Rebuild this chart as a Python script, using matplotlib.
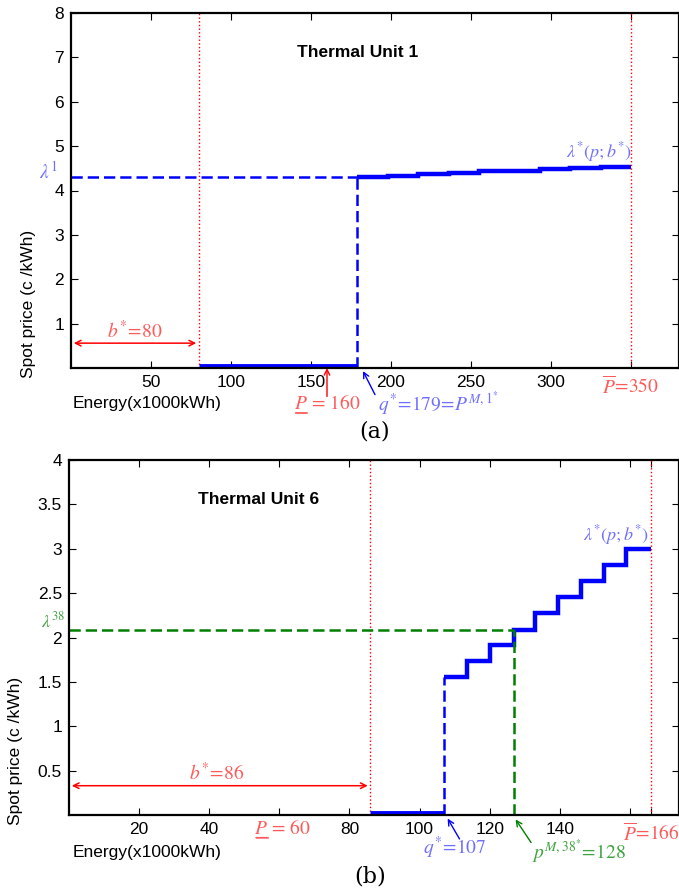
import numpy as np
import matplotlib.pyplot as plt

plt.rcParams['font.family'] = ['Liberation Sans', 'DejaVu Sans']
plt.rcParams['mathtext.fontset'] = 'stix'

# ---------------- data: Thermal Unit 1 ----------------
u1_bid = 80            # b*
u1_pmin = 160
u1_q = 179
u1_pmax = 350
u1_lambda = 4.31
u1_edges = [179, 198, 217, 236, 255, 274, 293, 312, 331, 350]
u1_prices = [4.31, 4.33, 4.37, 4.40, 4.43, 4.45, 4.48, 4.50, 4.53]
u1_xticks = [50, 100, 150, 200, 250, 300, 350]
u1_xlabels = ['50', '100', '150', '200', '250', '300', r'$\overline{P}\!=\!350$']
u1_yticks = [1, 2, 3, 4, 5, 6, 7, 8]

# ---------------- data: Thermal Unit 6 ----------------
u6_bid = 86
u6_pmin = 60
u6_q = 107
u6_pm = 127
u6_pmax = 166
u6_lambda = 2.09
u6_edges = [107, 113.5, 120, 127, 133, 139.5, 146, 152.5, 159, 166]
u6_prices = [1.56, 1.74, 1.92, 2.09, 2.28, 2.46, 2.64, 2.82, 3.0]
u6_xticks = [20, 40, 60, 80, 100, 120, 140, 160, 166]
u6_xlabels = ['20', '40', '', '80', '100', '120', '140', '', r'$\overline{P}\!=\!166$']
u6_yticks = [0.5, 1, 1.5, 2, 2.5, 3, 3.5, 4]
u6_ylabels = ['0.5', '1', '1.5', '2', '2.5', '3', '3.5', '4']

BLUE = '#0000ff'
BLUE_T = '#7070ff'
RED = '#ff0000'
RED_T = '#ff5a5a'
GREEN = '#007f00'
GREEN_T = '#3fa33f'
DASH = (0, (4.5, 2))

W, H = 679, 890
fig = plt.figure(figsize=(W / 100, H / 100), dpi=100)


def px_axes(left, top, right, bottom):
    return fig.add_axes([left / W, 1 - bottom / H, (right - left) / W, (bottom - top) / H])


def style(ax):
    ax.tick_params(direction='in', top=True, right=True, labelsize=12.5, length=5,
                   width=0.8, pad=5)
    for s in ax.spines.values():
        s.set_linewidth(1.6)


def underlined_p(ax, x, y, value, color, frac=0.22):
    # lower bound P with an underline below the P
    t = ax.text(x, y, r'$P\,=\,%d$' % value, color=color, fontsize=14, ha='center',
                va='center', clip_on=False)
    ax.annotate('', xy=(0.03, 0.0), xycoords=t, xytext=(frac, 0.0), textcoords=t,
                annotation_clip=False,
                arrowprops=dict(arrowstyle='-', color=color, lw=1.3,
                                shrinkA=0, shrinkB=0))
    return t


# ==================== (a) ====================
ax1 = px_axes(71, 13, 679, 368)
ax1.set_xlim(0, 380)
ax1.set_ylim(0, 8)
style(ax1)

ax1.axvline(u1_bid, color=RED, ls=':', lw=1)
ax1.axvline(u1_pmax, color=RED, ls=':', lw=1)
ax1.plot([u1_bid, u1_q], [0.04, 0.04], color=BLUE, lw=3.5, solid_capstyle='butt')
ax1.plot([u1_q, u1_q], [0, u1_lambda], color=BLUE, ls=DASH, lw=1.8)
ax1.plot([0, u1_q], [u1_lambda, u1_lambda], color=BLUE, ls=DASH, lw=1.8)
ax1.stairs(u1_prices, u1_edges, color=BLUE, lw=3.2, baseline=None)

ax1.annotate('', xy=(0, 0.56), xytext=(u1_bid, 0.56),
             arrowprops=dict(arrowstyle='<->', color=RED, lw=1.1))
ax1.text(u1_bid / 2, 0.84, r'$b^{*}\!=\!80$', color=RED_T, fontsize=14, ha='center', va='center')
ax1.text(-14, 4.42, r'$\lambda^{1}$', color=BLUE_T, fontsize=14, ha='center', va='center',
         clip_on=False)
ax1.text(330, 4.86, r'$\lambda^{*}(p;b^{*})$', color=BLUE_T, fontsize=13, ha='center', va='center')
ax1.text(179, 7.12, 'Thermal Unit 1', fontsize=12.5, fontweight='bold', ha='center', va='center')

ax1.annotate('', xy=(u1_pmin, 0), xytext=(u1_pmin, -0.64), annotation_clip=False,
             arrowprops=dict(arrowstyle='->', color=RED, lw=1, shrinkA=0, shrinkB=0))
underlined_p(ax1, u1_pmin, -0.8, u1_pmin, RED_T, frac=0.2)
ax1.annotate('', xy=(182.5, -0.07), xytext=(190, -0.6), annotation_clip=False,
             arrowprops=dict(arrowstyle='->', color=BLUE, lw=1, shrinkA=0, shrinkB=0))
ax1.text(192, -0.8, r'$q^{*}\!=\!179\!=\!P^{M,1^{*}}$', color=BLUE_T, fontsize=14,
         ha='left', va='center', clip_on=False)

ax1.set_xticks(u1_xticks)
ax1.set_xticklabels(u1_xlabels)
ax1.set_yticks(u1_yticks)
lab = ax1.get_xticklabels()[-1]
lab.set_color(RED_T)
lab.set_fontsize(14)

# ==================== (b) ====================
ax2 = px_axes(69, 460, 679, 815)
ax2.set_xlim(0, 174)
ax2.set_ylim(0, 4)
style(ax2)

ax2.axvline(u6_bid, color=RED, ls=':', lw=1)
ax2.axvline(u6_pmax, color=RED, ls=':', lw=1)
ax2.plot([u6_bid, u6_q], [0.02, 0.02], color=BLUE, lw=3.5, solid_capstyle='butt')
ax2.plot([u6_q, u6_q], [0, u6_prices[0]], color=BLUE, ls=DASH, lw=1.8)
ax2.plot([0, u6_pm], [u6_lambda, u6_lambda], color=GREEN, ls=DASH, lw=1.8)
ax2.plot([u6_pm, u6_pm], [0, u6_lambda], color=GREEN, ls=DASH, lw=1.8)
ax2.stairs(u6_prices, u6_edges, color=BLUE, lw=3.2, baseline=None)

ax2.annotate('', xy=(0, 0.33), xytext=(u6_bid, 0.33),
             arrowprops=dict(arrowstyle='<->', color=RED, lw=1.1))
ax2.text(42, 0.47, r'$b^{*}\!=\!86$', color=RED_T, fontsize=14, ha='center', va='center')
ax2.text(-4.5, 2.18, r'$\lambda^{38}$', color=GREEN_T, fontsize=13, ha='center', va='center',
         clip_on=False)
ax2.text(156, 3.16, r'$\lambda^{*}(p;b^{*})$', color=BLUE_T, fontsize=13, ha='center', va='center')
ax2.text(54, 3.55, 'Thermal Unit 6', fontsize=12.5, fontweight='bold', ha='center', va='center')

ax2.annotate('', xy=(108, -0.04), xytext=(111.4, -0.27), annotation_clip=False,
             arrowprops=dict(arrowstyle='->', color=BLUE, lw=1, shrinkA=0, shrinkB=0))
ax2.text(110, -0.37, r'$q^{*}\!=\!107$', color=BLUE_T, fontsize=14,
         ha='center', va='center', clip_on=False)
ax2.annotate('', xy=(127.4, -0.05), xytext=(131.8, -0.31), annotation_clip=False,
             arrowprops=dict(arrowstyle='->', color=GREEN, lw=1, shrinkA=0, shrinkB=0))
ax2.text(132, -0.41, r'$p^{M,38^{*}}\!=\!128$', color=GREEN_T, fontsize=14,
         ha='left', va='center', clip_on=False)
underlined_p(ax2, u6_pmin + 1, -0.15, u6_pmin, RED_T, frac=0.24)

ax2.set_xticks(u6_xticks)
ax2.set_xticklabels(u6_xlabels)
ax2.set_yticks(u6_yticks)
ax2.set_yticklabels(u6_ylabels)
lab = ax2.get_xticklabels()[8]
lab.set_color(RED_T)
lab.set_fontsize(14)

# axis titles placed like the original figure
for xl, yl, ye, xc, yc, tag in [(29, 304, 404, 375, 432, '(a)'),
                                (16, 751, 853, 370, 877, '(b)')]:
    fig.text(xl / W, 1 - yl / H, 'Spot price (c /kWh)', rotation=90, fontsize=12.5,
             ha='center', va='center')
    fig.text(73 / W, 1 - ye / H, 'Energy(x1000kWh)', fontsize=12.5, ha='left', va='center')
    fig.text(xc / W, 1 - yc / H, tag, fontsize=16, family='serif', ha='center', va='center')

fig.savefig('out.png', dpi=100)
